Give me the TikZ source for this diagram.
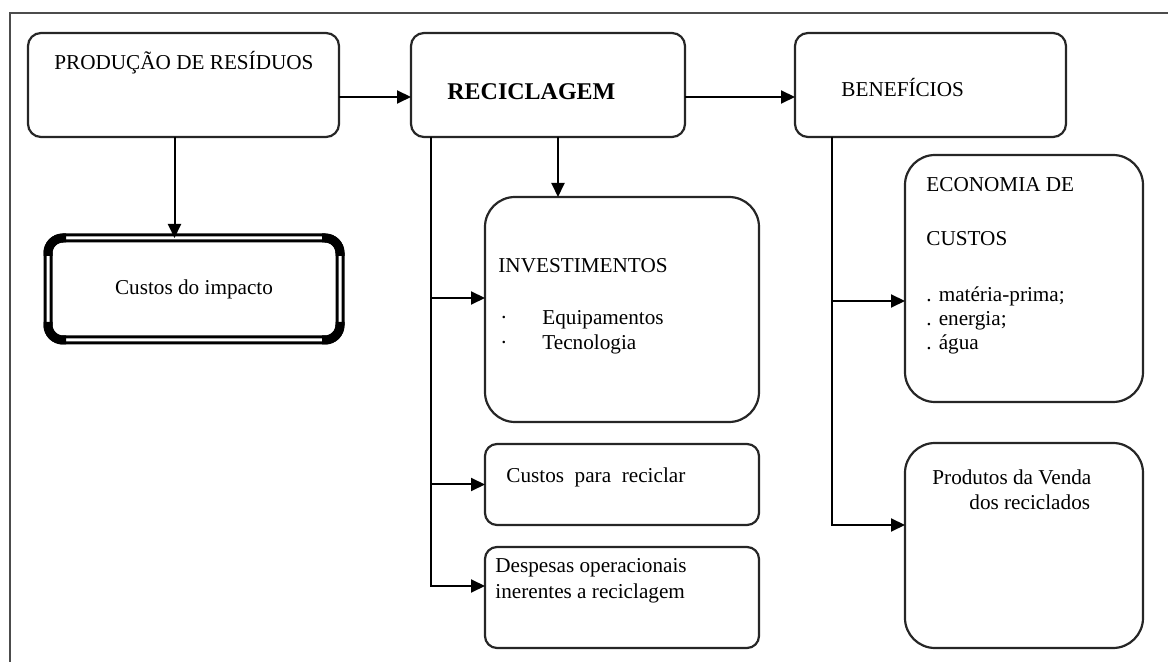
\documentclass[tikz,border=0pt]{standalone}
\usepackage{fontspec}
\setmainfont{Liberation Serif}
\usetikzlibrary{arrows.meta,fit}

\begin{document}
\begin{tikzpicture}[x=0.5pt,y=-0.5pt,
        box/.style={draw=black!85,line width=1.1pt,rectangle,inner sep=0pt,outer sep=0pt,rounded corners=#1},
        box/.default=6.5pt,
        arr/.style={line width=1pt,-{Triangle[length=7pt,width=6.5pt]}},
        txt/.style={anchor=base west,inner sep=0pt,font=\fontsize{10.6pt}{12pt}\selectfont}]
        \useasboundingbox (0,0) rectangle (1168,662);

        % frame
        \draw[black!70,line width=1.2pt] (10,662) -- (10,13) -- (1168,13);

        % top row
        \node[box,fit={(28,33) (339,137)}] (prod) {};
        \node[box,fit={(411,33) (685,137)}] (recic) {};
        \node[box,fit={(795,33) (1066,137)}] (benef) {};
        \node[txt] (prodtxt) at (54,70) {PRODUÇÃO DE RESÍDUOS};
        \node[txt,font=\fontsize{12pt}{14pt}\selectfont\bfseries] (recictxt) at (447,100) {RECICLAGEM};
        \node[txt] (beneftxt) at (841,97) {BENEFÍCIOS};

        % custos do impacto
        \node[box=7.5pt,fit={(48,238) (340,340)},double,double distance=1.5pt,line width=1.5pt,draw=black] (impacto) {};
        \begin{scope}
            \clip ([shift={(-3pt,3pt)}]impacto.north west) rectangle ++(12pt,-12pt)
                  ([shift={(3pt,3pt)}]impacto.north east) rectangle ++(-12pt,-12pt)
                  ([shift={(-3pt,-3pt)}]impacto.south west) rectangle ++(12pt,12pt)
                  ([shift={(3pt,-3pt)}]impacto.south east) rectangle ++(-12pt,12pt);
            \draw[line width=4.5pt,rounded corners=7.5pt] (impacto.north west) rectangle (impacto.south east);
        \end{scope}
        \node[txt,anchor=base] (impactotxt) at (194,295) {Custos do impacto};

        % reciclagem branch
        \node[box=15pt,fit={(485,197) (759,422)}] (invest) {};
        \node[box=6pt,fit={(485,444) (759,525)}] (custos) {};
        \node[box=6pt,fit={(485,547) (759,648)}] (despesas) {};
        \node[txt] (investtxt) at (498,273) {INVESTIMENTOS};
        \node[txt] (dot1) at (500,325) {·};
        \node[txt] (dot2) at (500,350) {·};
        \node[txt] (equip) at (542,325) {Equipamentos};
        \node[txt] (tecno) at (542,350) {Tecnologia};
        \node[txt] (custostxt) at (506,483) {Custos\ \ para\ \ reciclar};
        \node[txt] (desp1) at (495,573) {Despesas operacionais};
        \node[txt] (desp2) at (495,598) {inerentes a reciclagem};

        % beneficios branch
        \node[box=15pt,fit={(905,155) (1143,402)}] (econ) {};
        \node[box=15pt,fit={(905,443) (1143,648)}] (venda) {};
        \node[txt] (econ1) at (926,192) {ECONOMIA DE};
        \node[txt] (econ2) at (926,246) {CUSTOS};
        \node[txt] (econ3) at (926,302) {. matéria-prima;};
        \node[txt] (econ4) at (926,326) {. energia;};
        \node[txt] (econ5) at (926,350) {. água};
        \node[txt] (venda1) at (932,485) {Produtos da Venda};
        \node[txt] (venda2) at (969,510) {dos reciclados};

        % connectors
        \draw[arr] ([yshift=-6pt]prod.east) -- ([yshift=-6pt]prod.east -| recic.west);
        \draw[arr] ([yshift=-6pt]recic.east) -- ([yshift=-6pt]recic.east -| benef.west);
        \draw[arr] ([xshift=-4.5pt]prod.south) -- ([xshift=-4.5pt]prod.south |- impacto.north);
        \draw[arr] ([xshift=5pt]recic.south) -- ([xshift=5pt]recic.south |- invest.north);

        \coordinate (rtrunk) at ([xshift=10pt]recic.south west);
        \draw[arr] (rtrunk) |- ([yshift=5.75pt]invest.west);
        \draw[arr] (rtrunk) |- (custos.west);
        \draw[arr] (rtrunk) |- ([yshift=5.75pt]despesas.west);

        \coordinate (btrunk) at ([xshift=18.5pt]benef.south west);
        \draw[arr] (btrunk) |- ([yshift=-11.25pt]econ.west);
        \draw[arr] (btrunk) |- ([yshift=10.25pt]venda.west);
\end{tikzpicture}
\end{document}
